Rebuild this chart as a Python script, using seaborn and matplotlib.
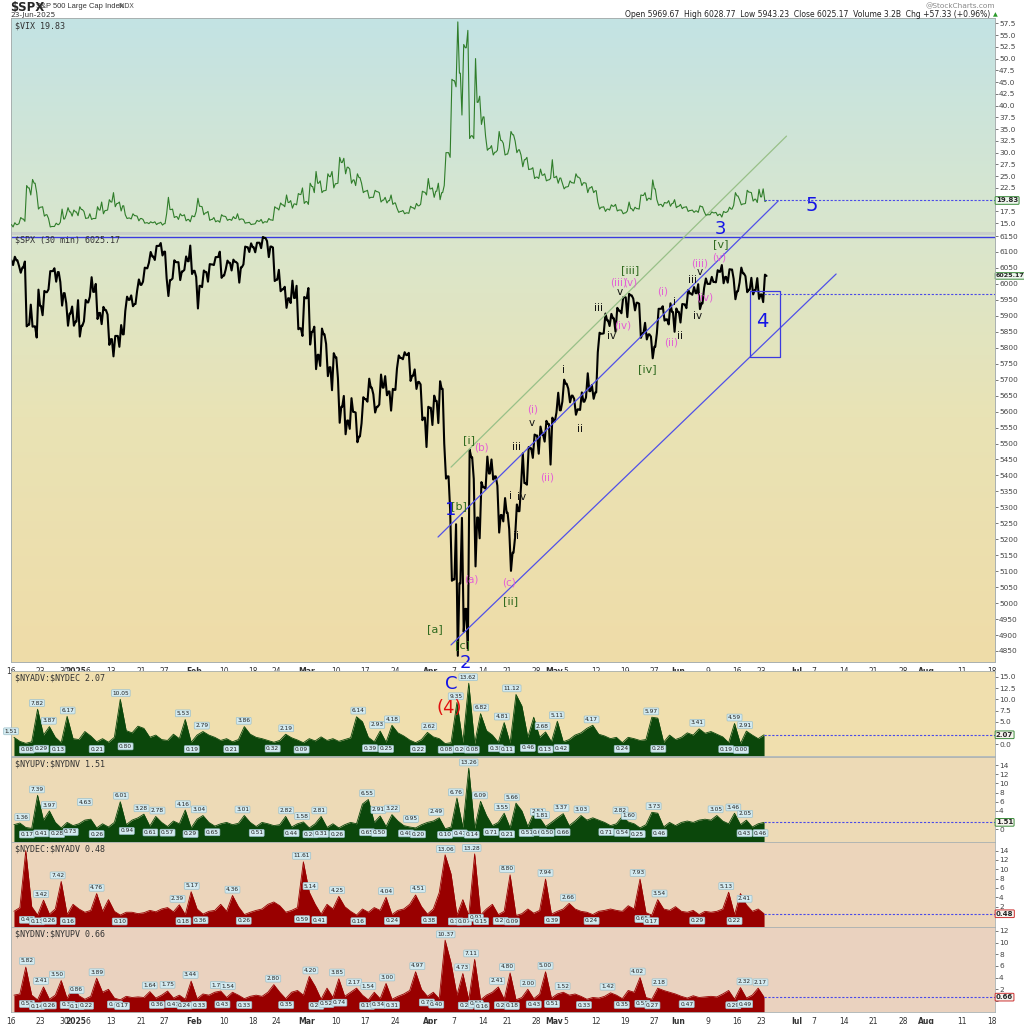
import numpy as np
import pandas as pd
import matplotlib
matplotlib.use('Agg')
import matplotlib.pyplot as plt
import seaborn as sns
from matplotlib.colors import LinearSegmentedColormap

sns.set_style('white')
plt.rcParams['font.family'] = ['DejaVu Sans']

# trading calendar (x axis = trading day index)
holidays = ['2024-12-25', '2025-01-01', '2025-01-09', '2025-01-20', '2025-02-17',
            '2025-04-18', '2025-05-26', '2025-06-19', '2025-07-04']
tick_dates = ['2024-12-16', '2024-12-23', '2024-12-30', '2025-01-02', '2025-01-06', '2025-01-13',
              '2025-01-21', '2025-01-27', '2025-02-03', '2025-02-10', '2025-02-18', '2025-02-24',
              '2025-03-03', '2025-03-10', '2025-03-17', '2025-03-24', '2025-04-01', '2025-04-07',
              '2025-04-14', '2025-04-21', '2025-04-28', '2025-05-01', '2025-05-05', '2025-05-12',
              '2025-05-19', '2025-05-27', '2025-06-02', '2025-06-09', '2025-06-16', '2025-06-23',
              '2025-07-01', '2025-07-07', '2025-07-14', '2025-07-21', '2025-07-28', '2025-08-01',
              '2025-08-11', '2025-08-18']
tick_labels = ['16', '23', '30', '2025', '6', '13', '21', '27', 'Feb', '10', '18', '24', 'Mar', '10',
               '17', '24', 'Apr', '7', '14', '21', '28', 'May', '5', '12', '19', '27', 'Jun', '9', '16',
               '23', 'Jul', '7', '14', '21', '28', 'Aug', '11', '18']

# $SPX daily high / low / close (drawn as the 30-min path)
spx_close = [6074, 6051, 5872, 5867, 5931, 5974, 6040, 6037, 5971, 5907,
             5882, 5869, 5942, 5975, 5909, 5918, 5827, 5837, 5842, 5950,
             5937, 5997, 6049, 6086, 6119, 6101, 6012, 6068, 6039, 6071,
             6041, 5994, 6037, 6061, 6084, 6026, 6066, 6069, 6052, 6115,
             6115, 6129, 6144, 6117, 6013, 5983, 5955, 5956, 5861, 5955,
             5850, 5778, 5842, 5739, 5770, 5615, 5572, 5599, 5522, 5639,
             5675, 5615, 5675, 5663, 5668, 5768, 5777, 5712, 5693, 5581,
             5612, 5633, 5671, 5397, 5074, 5062, 4982, 5457, 5268, 5363,
             5406, 5397, 5276, 5283, 5158, 5288, 5376, 5485, 5525, 5529,
             5561, 5569, 5604, 5687, 5650, 5607, 5631, 5664, 5660, 5844,
             5886, 5892, 5916, 5958, 5964, 5941, 5845, 5842, 5803, 5922,
             5889, 5912, 5912, 5936, 5970, 5971, 5939, 6000, 6006, 6038,
             6022, 6045, 5977, 6033, 5982, 5981, 5967, 6025]
spx_high = [6085, 6057, 6070, 5935, 5982, 5978, 6040, 6049, 6006, 5940,
            5929, 5949, 5950, 6021, 6000, 5928, 5904, 5837, 5871, 5960,
            5964, 6014, 6051, 6100, 6119, 6128, 6018, 6074, 6068, 6086,
            6120, 6022, 6042, 6062, 6084, 6101, 6073, 6076, 6064, 6117,
            6127, 6129, 6147, 6134, 6114, 6044, 5991, 6010, 5994, 5959,
            5987, 5866, 5860, 5812, 5783, 5705, 5649, 5642, 5597, 5645,
            5703, 5654, 5716, 5711, 5671, 5776, 5786, 5784, 5732, 5685,
            5615, 5650, 5695, 5500, 5292, 5247, 5267, 5481, 5389, 5379,
            5459, 5450, 5368, 5329, 5232, 5309, 5469, 5489, 5528, 5553,
            5571, 5581, 5659, 5700, 5672, 5640, 5660, 5720, 5683, 5847,
            5907, 5906, 5925, 5958, 5969, 5954, 5938, 5878, 5835, 5922,
            5930, 5939, 5923, 5937, 5981, 5990, 5999, 6017, 6022, 6043,
            6059, 6046, 6016, 6051, 6024, 6019, 6018, 6029]
spx_low = [6059, 6035, 5867, 5866, 5832, 5902, 5983, 6007, 5932, 5869,
           5869, 5835, 5883, 5960, 5890, 5874, 5809, 5773, 5803, 5915,
           5930, 5978, 6007, 6066, 6075, 6089, 5962, 6017, 6012, 6044,
           6031, 5923, 5990, 6007, 6059, 6019, 6045, 6042, 6004, 6061,
           6100, 6099, 6112, 6084, 6009, 5977, 5925, 5940, 5858, 5837,
           5810, 5733, 5743, 5711, 5667, 5565, 5529, 5546, 5504, 5563,
           5631, 5597, 5622, 5651, 5603, 5735, 5764, 5696, 5671, 5573,
           5489, 5558, 5564, 5390, 5070, 4835, 4910, 4857, 5115, 5203,
           5358, 5387, 5221, 5256, 5101, 5207, 5365, 5371, 5455, 5468,
           5506, 5434, 5597, 5631, 5629, 5590, 5605, 5644, 5640, 5786,
           5845, 5868, 5850, 5908, 5896, 5917, 5831, 5826, 5767, 5845,
           5885, 5873, 5850, 5879, 5924, 5966, 5921, 5987, 6000, 6005,
           6002, 6004, 5952, 6004, 5974, 5967, 5953, 5943]

# $VIX daily high / low / close
vix_close = [14.7, 15.9, 22.5, 23.5, 18.4, 16.8, 14.3, 14.7, 15.9, 17.4,
             17.4, 17.9, 16.1, 16.0, 17.8, 17.7, 19.5, 19.2, 18.7, 16.1,
             16.6, 16.0, 15.1, 15.1, 15.0, 14.9, 17.9, 16.4, 16.6, 15.8,
             16.4, 18.6, 17.2, 15.8, 15.5, 16.5, 15.8, 16.0, 15.9, 15.1,
             14.8, 15.4, 15.3, 15.7, 18.2, 18.9, 19.4, 19.1, 21.1, 19.6,
             22.8, 23.5, 21.9, 24.9, 23.4, 27.9, 26.9, 24.2, 24.7, 21.8,
             20.5, 21.7, 19.9, 19.8, 19.3, 17.5, 17.2, 18.3, 18.7, 21.6,
             22.3, 21.8, 21.5, 30.0, 45.3, 46.9, 52.3, 33.6, 40.7, 37.6,
             30.9, 30.1, 32.6, 29.7, 33.8, 30.6, 28.5, 26.5, 24.8, 25.2,
             24.2, 24.7, 24.6, 22.7, 23.6, 24.8, 23.6, 22.5, 21.9, 18.4,
             18.0, 18.6, 17.8, 17.2, 18.1, 18.1, 20.9, 20.3, 22.3, 19.0,
             19.3, 19.2, 18.6, 18.4, 17.7, 17.6, 18.5, 16.8, 17.2, 16.9,
             17.3, 18.0, 20.8, 19.1, 21.6, 20.1, 20.6, 19.83]
vix_high = [15.1, 16.2, 23.0, 24.3, 21.5, 18.5, 16.0, 15.0, 18.0, 18.3,
            17.8, 18.5, 17.5, 17.0, 18.5, 19.5, 20.0, 21.5, 19.5, 16.8,
            17.0, 16.5, 15.8, 15.3, 15.3, 15.2, 20.5, 18.0, 17.0, 16.8,
            16.6, 20.3, 18.5, 17.5, 16.2, 16.8, 16.4, 16.4, 17.0, 15.8,
            15.2, 15.6, 15.8, 16.0, 18.5, 19.3, 21.0, 19.8, 21.3, 22.5,
            23.5, 26.0, 24.0, 25.5, 26.0, 29.0, 28.8, 26.5, 25.5, 23.5,
            22.0, 22.0, 21.5, 20.5, 21.0, 18.2, 17.7, 18.6, 19.2, 21.8,
            24.5, 22.5, 23.5, 30.0, 45.6, 57.8, 53.0, 56.0, 50.0, 42.0,
            33.5, 31.5, 34.5, 32.0, 34.5, 32.5, 29.5, 29.0, 26.8, 26.5,
            25.5, 28.5, 25.0, 23.5, 24.0, 25.5, 24.5, 23.5, 22.8, 19.5,
            18.5, 18.9, 19.0, 17.8, 19.5, 18.4, 21.0, 21.5, 24.2, 20.0,
            19.4, 19.8, 20.0, 19.0, 18.5, 17.8, 18.7, 17.5, 17.4, 17.3,
            17.5, 18.4, 21.5, 20.0, 22.0, 21.5, 22.2, 22.3]
vix_low = [14.2, 14.9, 15.4, 21.0, 18.0, 16.5, 14.2, 14.3, 15.2, 16.8,
           16.5, 16.6, 16.0, 15.8, 16.0, 17.0, 17.8, 18.5, 17.6, 16.0,
           15.9, 15.5, 15.0, 14.9, 14.7, 14.6, 17.0, 16.2, 15.8, 15.5,
           15.3, 17.5, 16.8, 15.6, 15.3, 15.2, 15.6, 15.6, 15.7, 15.0,
           14.7, 14.9, 15.0, 15.2, 15.6, 17.8, 18.5, 18.2, 18.9, 19.2,
           19.0, 21.5, 21.5, 22.0, 22.5, 23.5, 25.5, 23.5, 23.0, 21.5,
           20.3, 20.5, 19.5, 19.3, 19.0, 17.3, 17.0, 17.1, 18.0, 19.0,
           21.0, 20.5, 20.0, 23.0, 29.0, 44.0, 38.0, 33.0, 33.0, 36.0,
           30.5, 29.5, 30.5, 29.5, 31.0, 30.0, 27.0, 26.4, 24.5, 24.5,
           24.0, 24.5, 23.5, 22.3, 22.8, 23.5, 23.0, 21.5, 21.5, 18.0,
           17.5, 17.8, 17.6, 17.0, 17.6, 17.6, 18.0, 19.8, 20.0, 18.8,
           18.5, 18.6, 18.3, 18.1, 17.5, 17.3, 17.3, 16.7, 16.8, 16.6,
           16.3, 17.5, 18.8, 18.9, 19.2, 19.7, 19.4, 19.6]

# breadth ratios, one value per trading day
adv_dec = [1.5, 0.6, 0.15, 0.5, 7.8, 2.0, 3.9, 1.5, 0.3, 6.2,
           1.2, 1.0, 2.8, 1.8, 0.5, 1.2, 0.4, 1.5, 10.0, 3.0,
           2.5, 4.0, 3.5, 1.5, 2.0, 1.0, 0.8, 2.2, 1.2, 5.5,
           0.4, 2.0, 2.8, 2.0, 1.5, 0.8, 1.2, 0.5, 1.0, 3.9,
           2.2, 1.5, 1.2, 0.8, 0.4, 0.8, 2.2, 1.4, 0.9, 0.3,
           1.2, 0.7, 1.6, 0.8, 1.2, 0.6, 1.0, 1.4, 6.1, 5.0,
           1.5, 0.5, 2.9, 0.4, 4.2, 2.5, 1.8, 0.9, 0.3, 1.0,
           2.6, 1.6, 1.2, 0.1, 0.3, 9.3, 0.3, 13.6, 0.1, 6.8,
           3.0, 2.0, 0.4, 4.8, 0.2, 11.1, 8.5, 1.5, 6.0, 1.5,
           2.7, 0.5, 5.1, 0.5, 1.0, 2.0, 2.5, 3.5, 4.2, 2.2,
           1.8, 1.2, 1.5, 0.3, 1.5, 1.2, 0.8, 1.0, 6.0, 5.8,
           0.4, 2.0, 1.0, 1.5, 2.5, 2.0, 3.4, 2.4, 2.8, 2.2,
           1.6, 0.3, 4.6, 0.1, 2.9, 2.0, 1.2, 2.07]
upv_dnv = [1.0, 1.36, 0.4, 0.2, 7.4, 2.0, 4.0, 1.5, 0.3, 1.5,
           0.8, 1.2, 2.0, 2.2, 0.3, 1.2, 0.5, 1.5, 6.0, 1.0,
           2.0, 2.5, 3.3, 0.7, 2.8, 1.5, 0.6, 1.8, 1.2, 4.2,
           0.3, 2.2, 3.0, 1.5, 0.7, 1.2, 1.5, 1.0, 1.3, 3.0,
           1.5, 0.6, 1.5, 1.2, 0.8, 1.0, 2.8, 0.5, 1.2, 1.6,
           0.3, 1.2, 2.8, 0.4, 1.2, 0.3, 1.0, 1.5, 1.2, 5.5,
           6.5, 1.5, 2.9, 0.6, 3.2, 1.8, 0.8, 0.5, 0.3, 1.0,
           1.5, 1.8, 2.5, 0.1, 0.5, 6.8, 0.4, 13.3, 0.2, 6.1,
           3.0, 0.8, 1.5, 3.5, 0.3, 5.7, 4.0, 0.6, 3.5, 2.5,
           0.6, 1.5, 2.5, 3.4, 0.8, 1.8, 3.0, 2.0, 2.5, 2.0,
           1.5, 0.8, 1.2, 2.8, 1.6, 1.2, 0.3, 1.0, 3.7, 3.5,
           0.5, 1.5, 0.8, 1.5, 1.8, 1.5, 2.0, 2.2, 2.0, 3.0,
           1.8, 1.2, 3.5, 1.0, 2.0, 0.5, 1.2, 1.51]
dec_adv = [1.0, 1.8, 14.0, 2.0, 0.2, 3.4, 0.4, 1.5, 7.4, 0.3,
           2.5, 1.5, 0.8, 1.2, 4.8, 1.0, 3.5, 1.0, 0.2, 0.8,
           0.8, 0.5, 0.7, 1.2, 0.9, 1.5, 1.8, 0.9, 2.4, 0.3,
           5.2, 1.5, 0.4, 1.0, 1.2, 2.5, 1.0, 4.4, 2.0, 0.3,
           0.8, 1.2, 1.5, 2.5, 3.0, 2.2, 0.8, 1.2, 1.8, 11.6,
           5.1, 2.5, 0.4, 2.5, 1.5, 4.2, 2.0, 1.0, 0.2, 1.5,
           0.8, 1.8, 1.2, 4.0, 0.3, 1.2, 1.5, 2.5, 4.5, 2.0,
           0.4, 1.5, 5.0, 13.1, 9.0, 0.2, 3.5, 0.1, 13.3, 0.2,
           1.5, 2.5, 0.3, 1.0, 8.8, 0.1, 0.5, 1.5, 0.6, 1.2,
           7.9, 0.4, 1.0, 1.5, 2.7, 1.5, 1.0, 0.8, 0.3, 1.0,
           1.2, 1.5, 1.2, 1.0, 2.2, 1.5, 7.9, 0.7, 0.2, 3.5,
           1.5, 1.2, 2.0, 1.0, 0.8, 1.2, 0.3, 1.0, 0.8, 1.0,
           1.5, 5.1, 0.3, 4.8, 2.4, 1.0, 1.5, 0.48]
dnv_upv = [1.0, 1.2, 5.8, 1.0, 0.2, 2.4, 0.3, 1.0, 3.5, 0.4,
           2.5, 0.9, 0.3, 0.8, 3.9, 1.5, 2.0, 0.5, 0.2, 0.8,
           0.6, 0.7, 0.6, 1.6, 0.5, 1.0, 1.7, 0.5, 1.0, 0.3,
           3.4, 0.4, 1.2, 1.0, 1.5, 1.7, 0.6, 1.5, 1.0, 0.4,
           0.8, 1.0, 0.8, 1.5, 2.8, 1.5, 0.4, 1.5, 1.8, 1.0,
           4.2, 2.5, 0.3, 2.2, 0.6, 3.8, 0.8, 1.5, 2.2, 1.0,
           0.2, 1.5, 0.4, 3.0, 0.3, 0.8, 1.2, 1.8, 5.0, 2.0,
           0.8, 1.5, 0.4, 10.4, 6.5, 1.0, 4.7, 0.2, 7.1, 0.2,
           1.0, 1.5, 2.4, 0.3, 4.8, 0.2, 0.6, 2.0, 0.4, 1.2,
           5.0, 0.5, 1.2, 1.5, 1.0, 1.2, 0.8, 0.3, 0.6, 0.5,
           0.8, 1.4, 1.0, 0.4, 1.8, 1.5, 4.0, 0.6, 0.3, 2.2,
           1.8, 1.5, 1.2, 0.8, 0.5, 0.9, 0.6, 0.7, 0.8, 0.7,
           1.2, 1.8, 0.3, 2.3, 0.5, 1.0, 2.2, 0.66]

# peak / trough call-outs (trading-day index, text)
pk1_x = [0.0, 4.4, 6.4, 9.6, 18.6, 29.1, 32.3, 39.4, 46.6, 58.8, 62.0, 64.5, 70.8, 75.3, 77.4,
         79.6, 83.1, 84.8, 90.0, 92.4, 98.3, 108.4, 116.2, 122.5, 124.3]
pk1_v = ['1.51', '7.82', '3.87', '6.17', '10.05', '5.53', '2.79', '3.86', '2.19', '6.14', '2.93',
         '4.18', '2.62', '9.35', '13.62', '6.82', '4.81', '11.12', '2.68', '5.11', '4.17', '5.97',
         '3.41', '4.59', '2.91']
tr1_x = [2.7, 5.1, 7.9, 14.5, 19.4, 30.6, 37.3, 44.3, 49.2, 60.8, 63.5, 68.9, 73.6, 76.2, 78.0,
         82.1, 84.0, 87.5, 90.5, 93.2, 103.4, 109.6, 121.1, 123.6]
tr1_v = ['0.08', '0.29', '0.13', '0.21', '0.80', '0.19', '0.21', '0.32', '0.09', '0.39', '0.25',
         '0.22', '0.08', '0.20', '0.08', '0.38', '0.11', '0.46', '0.13', '0.42', '0.24', '0.28',
         '0.19', '0.00']
pk2_x = [1.9, 4.4, 6.4, 12.5, 18.6, 22.1, 24.8, 29.1, 31.8, 39.2, 46.6, 49.3, 52.2, 60.3, 62.2,
         64.5, 67.7, 72.0, 75.3, 77.5, 79.4, 83.1, 84.8, 89.2, 89.9, 93.2, 96.6, 103.2, 104.6,
         108.8, 119.3, 122.3, 124.3]
pk2_v = ['1.36', '7.39', '3.97', '4.63', '6.01', '3.28', '2.78', '4.16', '3.04', '3.01', '2.82',
         '1.58', '2.81', '6.55', '2.91', '3.22', '0.95', '2.49', '6.76', '13.26', '6.09', '3.55',
         '5.66', '2.51', '1.81', '3.37', '3.03', '2.82', '1.60', '3.73', '3.05', '3.46', '2.05']
tr2_x = [2.7, 5.1, 7.8, 10.1, 14.5, 19.6, 23.6, 26.5, 30.4, 34.1, 41.6, 47.5, 50.7, 52.5, 55.2,
         60.3, 62.3, 66.9, 68.9, 73.5, 76.0, 78.0, 81.3, 84.0, 87.3, 89.5, 90.7, 93.4, 100.8,
         103.4, 106.1, 109.8, 124.2, 126.9]
tr2_v = ['0.17', '0.41', '0.28', '0.73', '0.26', '0.94', '0.61', '0.57', '0.29', '0.65', '0.51',
         '0.44', '0.20', '0.31', '0.26', '0.65', '0.50', '0.40', '0.20', '0.10', '0.41', '0.14',
         '0.71', '0.21', '0.51', '0.64', '0.50', '0.66', '0.71', '0.54', '0.25', '0.46', '0.43',
         '0.46']
pk3_x = [5.1, 7.9, 14.5, 28.2, 30.6, 37.5, 49.2, 50.7, 55.2, 63.5, 68.9, 73.6, 78.0, 84.0, 90.5,
         94.3, 106.1, 109.8, 121.1, 124.2]
pk3_v = ['3.42', '7.42', '4.76', '2.39', '5.17', '4.36', '11.61', '5.14', '4.25', '4.04', '4.51',
         '13.06', '13.28', '8.80', '7.94', '2.66', '7.93', '3.54', '5.13', '2.41']
tr3_x = [2.7, 4.4, 6.4, 9.6, 18.4, 29.2, 32.1, 39.4, 49.3, 52.2, 58.8, 64.5, 70.8, 75.3, 76.7,
         78.7, 79.6, 82.9, 84.8, 91.6, 98.3, 106.9, 108.4, 116.2, 122.5]
tr3_v = ['0.47', '0.13', '0.26', '0.16', '0.10', '0.18', '0.36', '0.26', '0.59', '0.41', '0.16',
         '0.24', '0.38', '0.11', '0.07', '0.91', '0.15', '0.21', '0.09', '0.39', '0.24', '0.65',
         '0.17', '0.29', '0.22']
pk4_x = [2.7, 5.1, 7.8, 11.1, 14.5, 23.5, 26.5, 30.4, 35.0, 36.7, 44.4, 50.7, 55.2, 58.1, 60.5,
         63.7, 68.8, 73.6, 76.4, 77.9, 82.3, 84.0, 87.5, 90.5, 93.4, 101.0, 106.1, 109.8, 124.2,
         126.9]
pk4_v = ['5.82', '2.41', '3.50', '0.86', '3.89', '1.64', '1.75', '3.44', '1.71', '1.54', '2.80',
         '4.20', '3.85', '2.17', '1.54', '3.00', '4.97', '10.37', '4.73', '7.11', '2.41', '4.80',
         '2.00', '5.00', '1.52', '1.42', '4.02', '2.18', '2.32', '2.17']
tr4_x = [2.7, 4.4, 6.4, 9.6, 11.1, 12.7, 17.6, 18.8, 24.7, 27.4, 29.4, 31.8, 35.8, 39.5, 46.6,
         51.7, 53.4, 55.6, 60.3, 62.2, 64.5, 70.4, 72.0, 77.0, 78.7, 79.7, 83.1, 84.8, 88.5, 91.6,
         97.0, 103.4, 106.9, 108.6, 114.4, 122.3, 124.3]
tr4_v = ['0.52', '0.14', '0.26', '0.34', '0.16', '0.22', '0.43', '0.17', '0.36', '0.47', '0.24',
         '0.33', '0.43', '0.33', '0.35', '0.21', '0.52', '0.74', '0.19', '0.34', '0.31', '0.77',
         '0.40', '0.23', '0.51', '0.16', '0.29', '0.18', '0.43', '0.51', '0.33', '0.35', '0.55',
         '0.27', '0.47', '0.29', '0.49']

# Elliott wave labels on the price panel: (text, day index, price, colour, size)
GRN, PNK, BLK, BLU = '#2f6a1f', '#e45fd6', '#111111', '#1414e6'
waves = [('3', 120.1, 6172, BLU, 13), ('[v]', 120.1, 6125, GRN, 8), ('(v)', 119.9, 6084, PNK, 7.5),
         ('(iii)', 116.6, 6065, PNK, 7.5), ('v', 116.6, 6037, BLK, 7.5), ('iii', 115.4, 6012, BLK, 7.5),
         ('(iv)', 117.4, 5956, PNK, 7.5), ('iv', 116.2, 5899, BLK, 7.5), ('(i)', 110.3, 5975, PNK, 7.5),
         ('i', 112.3, 5943, BLK, 7.5), ('ii', 113.2, 5837, BLK, 7.5), ('(ii)', 111.8, 5815, PNK, 7.5),
         ('[iv]', 107.8, 5733, GRN, 8), ('[iii]', 104.9, 6043, GRN, 8), ('(iii)', 102.9, 6003, PNK, 7.5),
         ('(v)', 104.8, 6003, PNK, 7.5), ('v', 103.0, 5975, BLK, 7.5), ('iii', 99.5, 5924, BLK, 7.5),
         ('iv', 101.7, 5837, BLK, 7.5), ('(iv)', 103.5, 5871, PNK, 7.5), ('i', 93.6, 5730, BLK, 7.5),
         ('ii', 96.3, 5545, BLK, 7.5), ('(i)', 88.3, 5608, PNK, 7.5), ('v', 88.2, 5564, BLK, 7.5),
         ('iii', 85.6, 5489, BLK, 7.5), ('(ii)', 90.7, 5392, PNK, 7.5), ('iv', 86.5, 5332, BLK, 7.5),
         ('i', 84.6, 5335, BLK, 7.5), ('ii', 85.5, 5210, BLK, 7.5), ('(c)', 84.3, 5063, PNK, 7.5),
         ('[ii]', 84.5, 5007, GRN, 8), ('[i]', 77.5, 5511, GRN, 8), ('(b)', 79.6, 5486, PNK, 7.5),
         ('1', 74.5, 5292, BLU, 13), ('[b]', 75.9, 5304, GRN, 8), ('(a)', 78.0, 5075, PNK, 7.5),
         ('[a]', 71.8, 4919, GRN, 8), ('[c]', 76.4, 4869, GRN, 8), ('2', 76.9, 4812, BLU, 13),
         ('4', 127.2, 5881, BLU, 14), ('5', 135.5, 6247, BLU, 14)]

# ---------------------------------------------------------------
days = pd.bdate_range('2024-12-16', '2025-08-29')
days = days[~days.isin(pd.to_datetime(holidays))]
day_pos = {d.strftime('%Y-%m-%d'): i for i, d in enumerate(days)}
tick_pos = [day_pos[d] for d in tick_dates]
XMAX = 166.6
n = len(spx_close)


def day_path(hi, lo, cl):
    xs, ys = [], []
    prev = cl[0]
    for i in range(len(cl)):
        seq = [prev, lo[i], hi[i], cl[i]] if cl[i] >= prev else [prev, hi[i], lo[i], cl[i]]
        xs += [i + 0.08, i + 0.35, i + 0.65, i + 0.92]
        ys += seq
        prev = cl[i]
    return xs, ys


W = 1024.0
fig = plt.figure(figsize=(10.24, 10.24), dpi=100)
fig.patch.set_facecolor('white')


def frame(top, bottom):
    return [11 / W, 1 - bottom / W, 984 / W, (bottom - top) / W]


ax = fig.add_axes(frame(18, 662))
vax = ax.twinx()

# background gradient
grad = LinearSegmentedColormap.from_list(
    'bg', [(0, '#c3e3e4'), (0.33, '#d9e6cd'), (0.62, '#e9e3b5'), (1, '#efdca8')])
ax.imshow(np.linspace(0, 1, 256).reshape(-1, 1), cmap=grad, aspect='auto',
          extent=[0, 1, 0, 1], transform=ax.transAxes, zorder=0)

# price path
sx, sy = day_path(spx_high, spx_low, spx_close)
sns.lineplot(x=sx, y=sy, ax=ax, sort=False, estimator=None, color='black', lw=1.5, zorder=3)
vx, vy = day_path(vix_high, vix_low, vix_close)
sns.lineplot(x=vx, y=vy, ax=vax, sort=False, estimator=None, color='#2f7d2a', lw=0.8, zorder=3)

# separators and channels
ax.axhline(6160, color='#c9cfc9', lw=2.2, zorder=2)
ax.axhline(6147, color='#3a3ae0', lw=1.0, zorder=2)
ax.plot([72.3, 129.9], [5207, 6260], color='#5050e8', lw=0.9, zorder=4)
ax.plot([74.5, 139.7], [4869, 6031], color='#5050e8', lw=0.9, zorder=4)
ax.plot([74.5, 131.3], [5426, 6463], color='#98c088', lw=0.9, zorder=4)
ax.plot([125.2, 130.2, 130.2, 125.2, 125.2], [5978, 5978, 5771, 5771, 5978],
        color='#3a3ae0', lw=0.9, zorder=4)
ax.plot([n - 0.5, XMAX], [5967, 5967], color='#4a4ae8', lw=0.8, ls=(0, (2, 1.5)), zorder=4)
vax.plot([n - 0.5, XMAX], [vix_close[-1], vix_close[-1]], color='#4a4ae8', lw=0.8,
         ls=(0, (2, 1.5)), zorder=4)

for txt, wx, wy, col, fs in waves:
    ax.text(wx, wy, txt, color=col, fontsize=fs, ha='center', va='center', zorder=6,
            clip_on=False)

ax.set_xlim(0, XMAX)
ax.set_ylim(4815.5, 6833)
vax.set_ylim(-78.3, 58.63)
ax.yaxis.tick_right()
ax.set_yticks(np.arange(4850, 6151, 50))
vix_ticks = np.arange(15, 57.6, 2.5)
vax.set_yticks(vix_ticks)
# the 20.0 label sits under the last-value tag
vax.set_yticklabels(['' if v == 20 else f'{v:.1f}' for v in vix_ticks])
for a in (ax, vax):
    a.tick_params(axis='y', labelsize=5.3, length=2, pad=1, colors='#444444', width=0.5)
ax.set_xticks(tick_pos)
ax.set_xticklabels(tick_labels)
ax.tick_params(axis='x', labelsize=5.5, length=2, pad=1.5, colors='#333333', width=0.5)
vax.set_xlim(0, XMAX)
for s in list(ax.spines.values()) + list(vax.spines.values()):
    s.set_color('#a8b0b0')
    s.set_linewidth(0.6)

ax.text(0.004, 0.995, r'\$VIX 19.83', transform=ax.transAxes, family='DejaVu Sans Mono',
        fontsize=6, va='top', color='#333333')
ax.text(0.004, 0.662, r'\$SPX (30 min) 6025.17', transform=ax.transAxes,
        family='DejaVu Sans Mono', fontsize=6, va='top', color='#333333', zorder=7)

tag = dict(boxstyle='round,pad=0.12', fc='#eef6ee', ec='#3c8c3c', lw=0.7)
vax.text(1.001, vix_close[-1], '19.83', transform=vax.get_yaxis_transform(), fontsize=5,
         fontweight='bold', va='center', ha='left', bbox=tag, zorder=8)
ax.text(1.001, spx_close[-1], '6025.17', transform=ax.get_yaxis_transform(), fontsize=4.6,
        fontweight='bold', va='center', ha='left', bbox=tag, zorder=8)

# ---------------------------------------------------------------
panels = [
    (671, 756, adv_dec, (-2.68, 16.34), np.arange(0, 15.1, 2.5), '{:.1f}', 2.5, '#f0dfae',
     '#0b470b', r'\$NYADV:\$NYDEC 2.07', pk1_x, pk1_v, tr1_x, tr1_v, '#3c8c3c'),
    (757, 842, upv_dnv, (-2.77, 15.75), np.arange(0, 14.1, 2), '{:.0f}', 2, '#eddab6',
     '#0b470b', r'\$NYUPV:\$NYDNV 1.51', pk2_x, pk2_v, tr2_x, tr2_v, '#3c8c3c'),
    (842, 927, dec_adv, (-2.36, 15.85), np.arange(0, 14.1, 2), '{:.0f}', 0, '#ecd5bb',
     '#990000', r'\$NYDEC:\$NYADV 0.48', pk3_x, pk3_v, tr3_x, tr3_v, '#cc3030'),
    (927, 1012, dnv_upv, (-1.88, 12.65), np.arange(0, 12.1, 2), '{:.0f}', 0, '#ead2bf',
     '#990000', r'\$NYDNV:\$NYUPV 0.66', pk4_x, pk4_v, tr4_x, tr4_v, '#cc3030'),
]
box = dict(boxstyle='round,pad=0.16', fc='#d3eaf0', ec='#9dc1cb', lw=0.5)
pax_list = []
for k, (top, bot, vals, ylim, yt, fmt, hide, bg, col, name, px, pv, tx, tv, tagc) in enumerate(panels):
    pax = fig.add_axes(frame(top, bot))
    pax_list.append(pax)
    pax.set_facecolor(bg)
    xs = np.arange(len(vals)) + 0.5
    pax.fill_between(xs, ylim[0], vals, color=col, lw=0, zorder=2)
    sns.lineplot(x=xs, y=vals, ax=pax, color=col, lw=0.6, zorder=2)
    pax.plot([n - 0.5, XMAX], [vals[-1], vals[-1]], color='#4a4ae8', lw=0.8,
             ls=(0, (2, 1.5)), zorder=3)
    for x_, v_ in zip(px, pv):
        pax.annotate(v_, xy=(x_, float(v_)), xytext=(0, 2.5), textcoords='offset points',
                     ha='center', va='bottom', fontsize=4.2, color='#222222', bbox=box, zorder=5)
    for x_, v_ in zip(tx, tv):
        pax.annotate(v_, xy=(x_, float(v_)), xytext=(0, -2.5), textcoords='offset points',
                     ha='center', va='top', fontsize=4.2, color='#222222', bbox=box, zorder=5)
    pax.set_xlim(0, XMAX)
    pax.set_ylim(*ylim)
    pax.yaxis.tick_right()
    pax.set_yticks(yt)
    pax.set_yticklabels(['' if v == hide else fmt.format(v) for v in yt])
    pax.tick_params(axis='y', labelsize=5.3, length=2, pad=1, colors='#444444', width=0.5)
    pax.set_xticks(tick_pos)
    if k == 3:
        pax.set_xticklabels(tick_labels)
        pax.tick_params(axis='x', labelsize=5.5, length=2, pad=1.5, colors='#333333', width=0.5)
    else:
        pax.set_xticklabels([])
        pax.tick_params(axis='x', length=0)
    for s in pax.spines.values():
        s.set_color('#a8b0b0')
        s.set_linewidth(0.6)
    pax.text(0.004, 0.97, name, transform=pax.transAxes, family='DejaVu Sans Mono',
             fontsize=6, va='top', color='#333333', zorder=6)
    pax.text(1.001, vals[-1], f'{vals[-1]:.2f}', transform=pax.get_yaxis_transform(),
             fontsize=5, fontweight='bold', va='center', ha='left', zorder=8,
             bbox=dict(boxstyle='round,pad=0.12', fc='#f6f3ee', ec=tagc, lw=0.7))

# wave labels that fall into the first indicator panel
pax_list[0].text(74.5, 13.4, 'C', color=BLU, fontsize=13, ha='center', va='center', zorder=7)
pax_list[0].text(74.2, 8.0, '(4)', color='#e01010', fontsize=13, ha='center', va='center', zorder=7)

for a in [ax] + pax_list:
    for lab in a.get_xticklabels():
        if lab.get_text() in ('Feb', 'Mar', 'Apr', 'May', 'Jun', 'Jul', 'Aug', '2025'):
            lab.set_fontweight('bold')

# header
fig.text(10 / W, 1 - 7 / W, r'\$SPX', fontsize=8.5, fontweight='bold', va='center')
fig.text(36 / W, 1 - 7 / W, 'S&P 500 Large Cap Index', fontsize=5.4, va='center',
         color='#333333', family='Liberation Sans')
fig.text(118 / W, 1 - 7 / W, 'INDX', fontsize=4.8, va='center', color='#444444',
         family='Liberation Sans')
fig.text(10 / W, 1 - 15 / W, '23-Jun-2025', fontsize=5.3, va='center', color='#333333')
fig.text(995 / W, 1 - 6 / W, '@StockCharts.com', fontsize=5.3, va='center', ha='right',
         color='#888888')
fig.text(990 / W, 1 - 14.5 / W,
         'Open 5969.67  High 6028.77  Low 5943.23  Close 6025.17  Volume 3.2B  Chg +57.33 (+0.96%)',
         fontsize=5.5, va='center', ha='right', color='#222222')
fig.text(995 / W, 1 - 14.5 / W, '\u25b2', fontsize=4.5, va='center', ha='center', color='#2a9a2a')

fig.savefig('out.png', dpi=100)
